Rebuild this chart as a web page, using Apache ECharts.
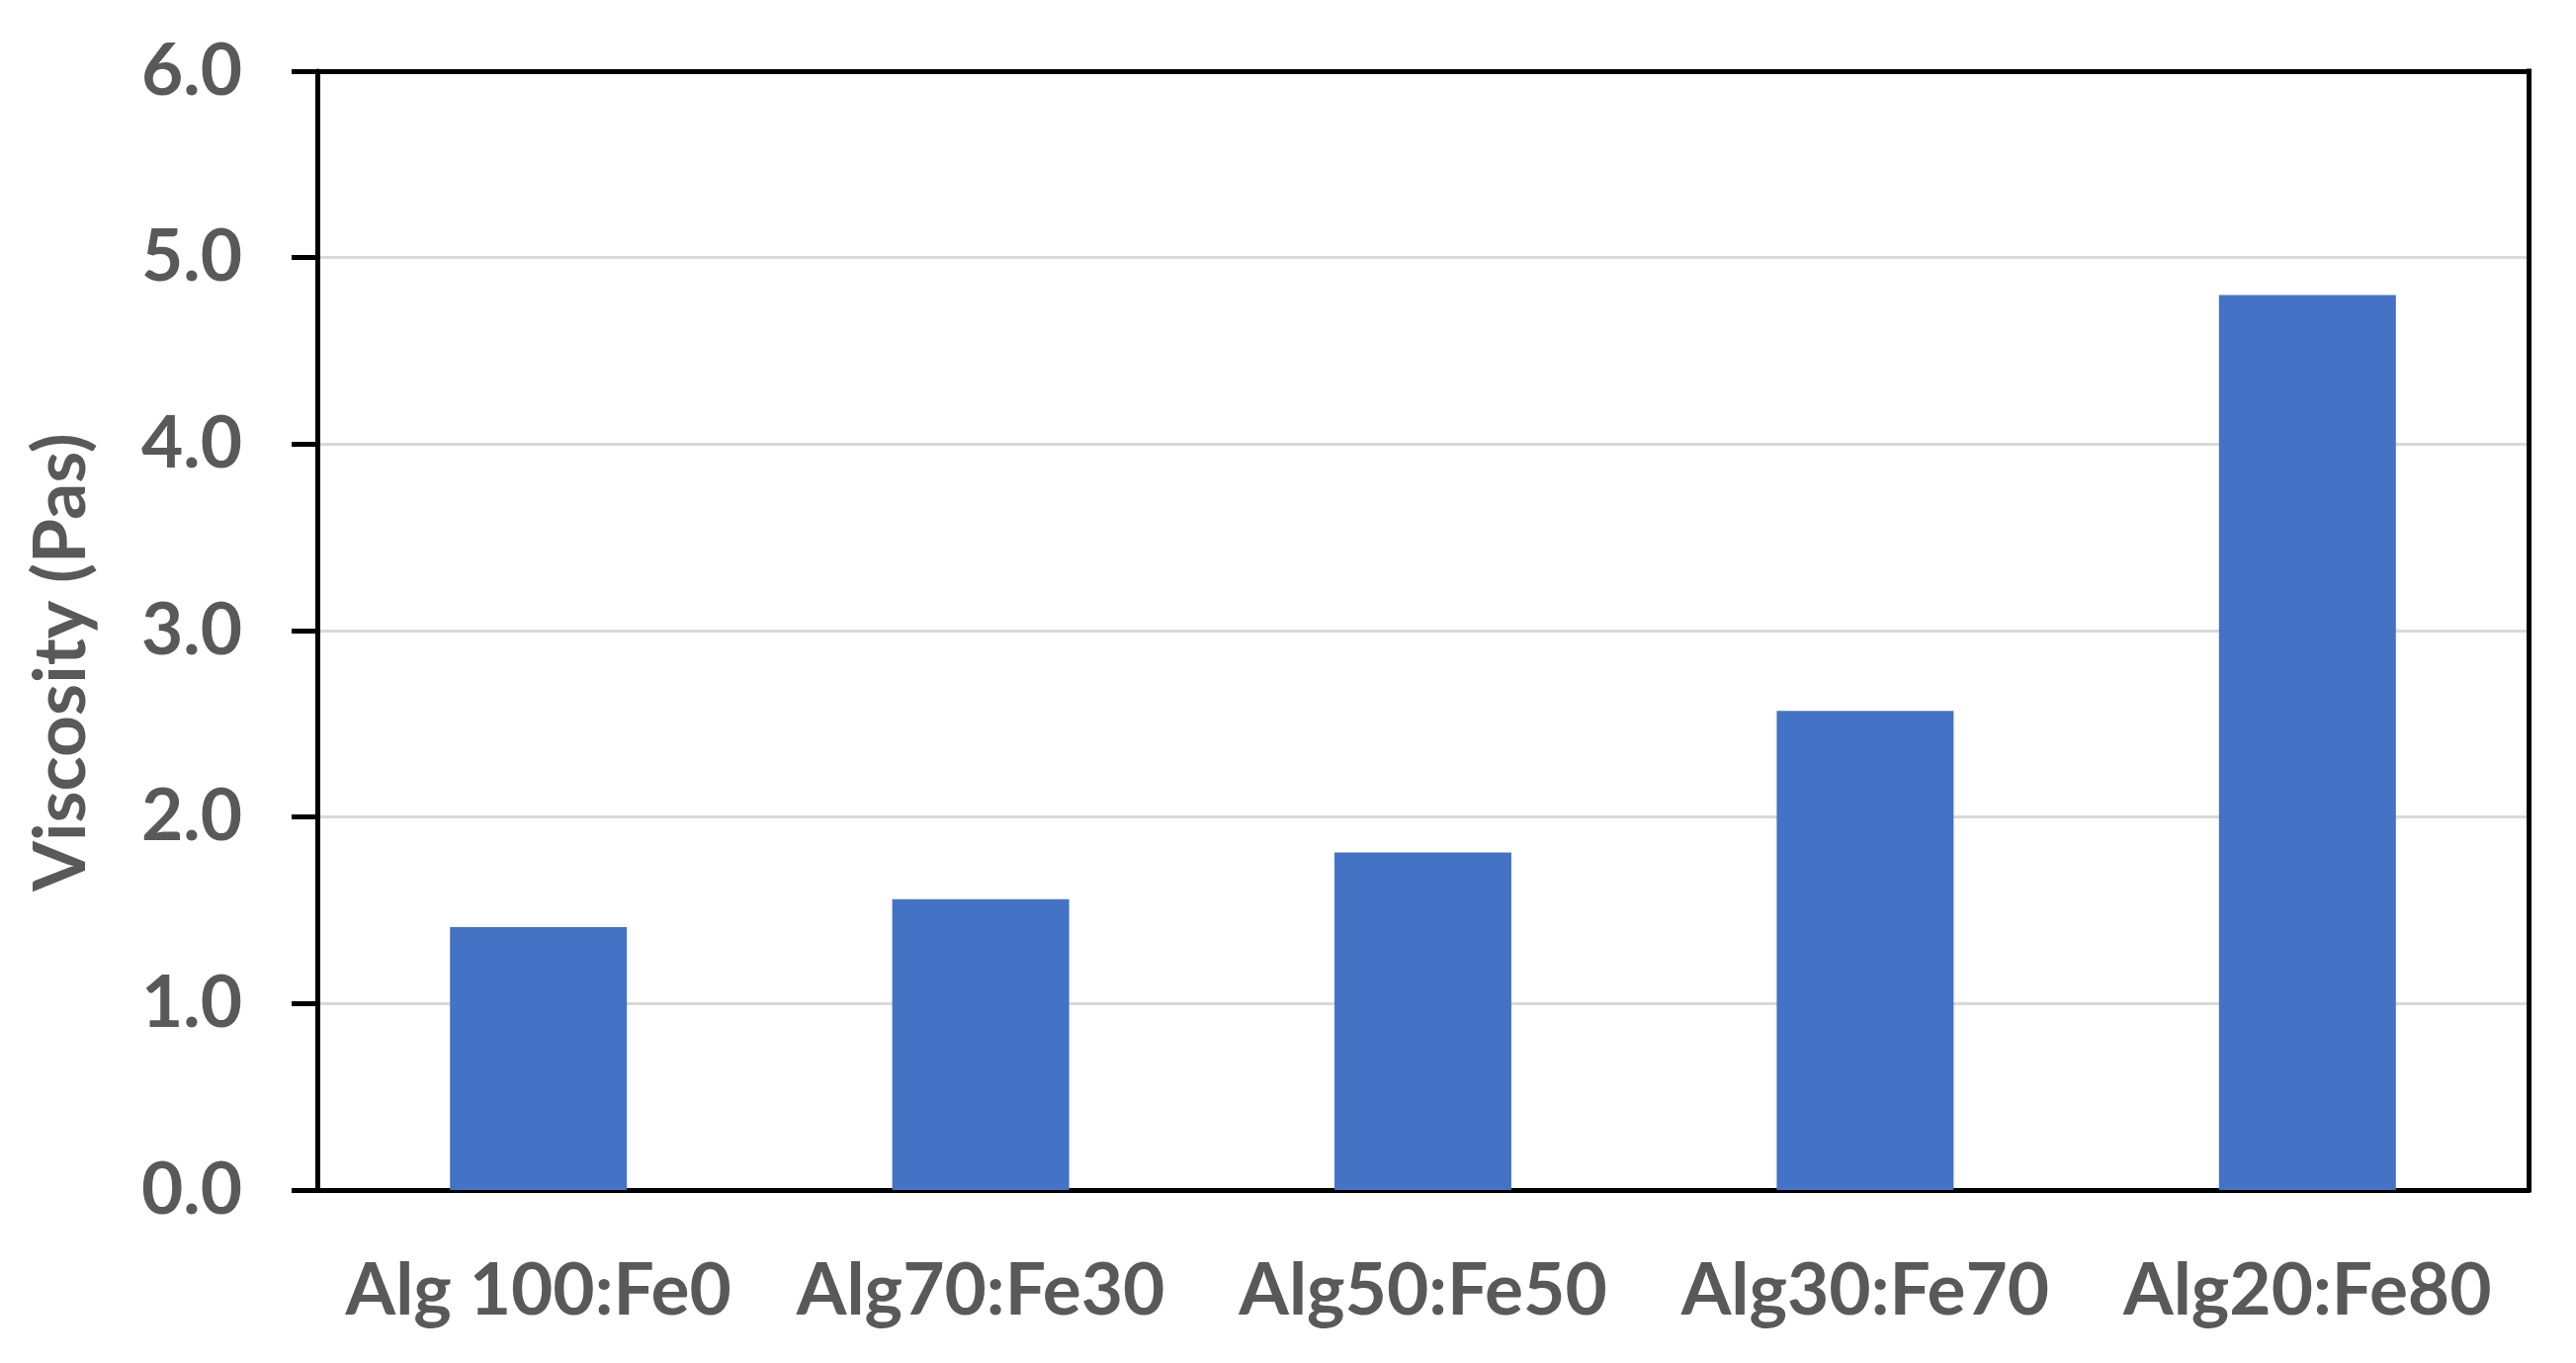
<!DOCTYPE html>
<html>
<head>
<meta charset="utf-8">
<script src="https://cdn.jsdelivr.net/npm/echarts@6/dist/echarts.min.js"></script>
<style>
  html, body { margin: 0; padding: 0; background: #fff; }
  #barChart { width: 2606px; height: 1379px; }
</style>
</head>
<body>
<div id="barChart"></div>
<script>
const categories = ['Alg 100:Fe0', 'Alg70:Fe30', 'Alg50:Fe50', 'Alg30:Fe70', 'Alg20:Fe80'];
const viscosity = [1.41, 1.56, 1.81, 2.57, 4.80];
const yTicks = { min: 0, max: 6, interval: 1 };

const textColor = '#595959';
const font = 'Lato';

const barChart = echarts.init(document.getElementById('barChart'));

// top / right frame drawn as bare axes so the line weight matches the others
const frameLine = { show: true, onZero: false, lineStyle: { color: '#000', width: 5, cap: 'square' } };

const option = {
  backgroundColor: '#fff',
  animation: false,
  grid: {
    left: 321,
    right: 48,
    top: 72,
    bottom: 175
  },
  xAxis: [
    {
      type: 'category',
      data: categories,
      axisLine: { lineStyle: { color: '#000', width: 5 } },
      axisTick: { show: false },
      axisLabel: {
        interval: 0,
        color: textColor,
        fontFamily: font,
        fontWeight: 'bold',
        fontSize: 73,
        margin: 66
      }
    },
    {
      type: 'category',
      position: 'top',
      data: categories,
      z: 5,
      axisLine: frameLine,
      axisTick: { show: false },
      axisLabel: { show: false }
    }
  ],
  yAxis: [
    {
      type: 'value',
      min: yTicks.min,
      max: yTicks.max,
      interval: yTicks.interval,
      name: 'Viscosity (Pas)',
      nameLocation: 'middle',
      nameGap: 222,
      nameTextStyle: {
        color: textColor,
        fontFamily: font,
        fontWeight: 'bold',
        fontSize: 73,
        padding: [0, 64, 0, 0]
      },
      axisLine: { show: true, lineStyle: { color: '#000', width: 5 } },
      axisTick: { show: true, length: 26, lineStyle: { color: '#000', width: 5 } },
      axisLabel: {
        color: textColor,
        fontFamily: font,
        fontWeight: 'bold',
        fontSize: 73,
        margin: 76,
        formatter: (v) => v.toFixed(1)
      },
      splitLine: { showMaxLine: false, lineStyle: { color: '#d9d9d9', width: 3 } }
    },
    {
      type: 'value',
      position: 'right',
      min: yTicks.min,
      max: yTicks.max,
      interval: yTicks.interval,
      z: 5,
      axisLine: frameLine,
      axisTick: { show: false },
      axisLabel: { show: false },
      splitLine: { show: false }
    }
  ],
  series: [
    {
      type: 'bar',
      data: viscosity,
      barWidth: '40%',
      itemStyle: { color: '#4472C4' }
    }
  ]
};

barChart.setOption(option);
</script>
</body>
</html>
